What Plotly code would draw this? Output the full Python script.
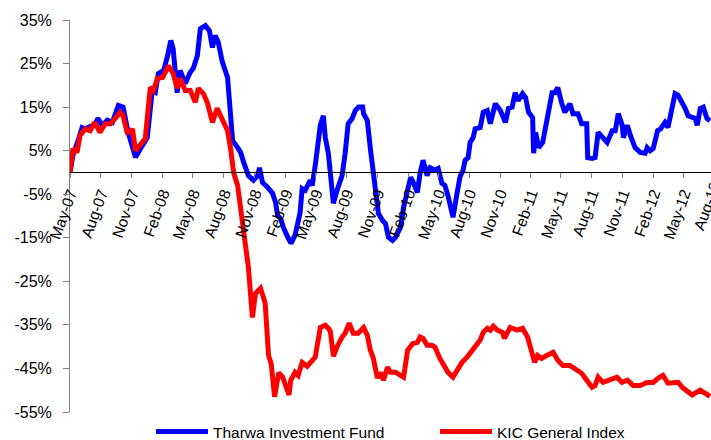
import pandas as pd
import plotly.graph_objects as go

# ---- data ----
tharwa_dates = [
    "2007-05-01", "2007-05-10", "2007-05-25", "2007-06-06", "2007-06-15", "2007-06-30", "2007-07-14", "2007-07-23",
    "2007-08-05", "2007-08-20", "2007-09-04", "2007-09-22", "2007-10-06", "2007-10-21", "2007-11-03", "2007-11-12",
    "2007-11-27", "2007-12-17", "2008-01-01", "2008-01-10", "2008-01-19", "2008-02-04", "2008-02-16", "2008-02-25",
    "2008-03-03", "2008-03-15", "2008-03-24", "2008-04-08", "2008-04-23", "2008-05-02", "2008-05-14", "2008-05-23",
    "2008-06-07", "2008-06-19", "2008-06-28", "2008-07-06", "2008-07-15", "2008-07-27", "2008-08-12", "2008-08-21",
    "2008-08-27", "2008-09-11", "2008-09-20", "2008-09-29", "2008-10-13", "2008-10-28", "2008-11-10", "2008-11-15",
    "2008-11-24", "2008-12-09", "2008-12-24", "2009-01-02", "2009-01-08", "2009-01-17", "2009-01-26", "2009-02-08",
    "2009-02-17", "2009-03-01", "2009-03-16", "2009-03-22", "2009-03-31", "2009-04-15", "2009-04-21", "2009-04-30",
    "2009-05-09", "2009-05-15", "2009-05-24", "2009-05-30", "2009-06-08", "2009-06-20", "2009-06-23", "2009-07-04",
    "2009-07-19", "2009-07-28", "2009-08-06", "2009-08-18", "2009-08-27", "2009-09-06", "2009-09-18", "2009-09-21",
    "2009-10-02", "2009-10-11", "2009-10-20", "2009-10-26", "2009-11-04", "2009-11-16", "2009-11-25", "2009-12-04",
    "2009-12-16", "2009-12-25", "2010-01-09", "2010-01-18", "2010-01-30", "2010-02-08", "2010-02-17", "2010-02-28",
    "2010-03-08", "2010-03-17", "2010-03-29", "2010-04-07", "2010-04-22", "2010-05-01", "2010-05-12", "2010-05-21",
    "2010-05-30", "2010-06-11", "2010-06-14", "2010-06-26", "2010-07-05", "2010-07-14", "2010-07-20", "2010-07-29",
    "2010-08-04", "2010-08-13", "2010-08-19", "2010-09-03", "2010-09-12", "2010-09-24", "2010-10-03", "2010-10-18",
    "2010-11-02", "2010-11-17", "2010-11-26", "2010-12-07", "2010-12-16", "2010-12-25", "2011-01-07", "2011-01-16",
    "2011-01-25", "2011-02-06", "2011-02-09", "2011-02-15", "2011-02-24", "2011-03-08", "2011-03-23", "2011-04-05",
    "2011-04-13", "2011-04-22", "2011-05-04", "2011-05-13", "2011-05-28", "2011-06-06", "2011-06-21", "2011-07-02",
    "2011-07-17", "2011-07-20", "2011-08-02", "2011-08-11", "2011-08-20", "2011-09-04", "2011-09-16", "2011-10-01",
    "2011-10-10", "2011-10-19", "2011-10-31", "2011-11-03", "2011-11-15", "2011-11-24", "2011-12-08", "2011-12-23",
    "2012-01-07", "2012-01-13", "2012-01-22", "2012-01-31", "2012-02-13", "2012-02-22", "2012-03-06", "2012-03-15",
    "2012-03-27", "2012-04-05", "2012-04-14", "2012-04-26", "2012-05-05", "2012-05-14", "2012-05-26", "2012-06-04",
    "2012-06-10", "2012-06-19", "2012-06-28", "2012-07-09", "2012-07-18",
]
tharwa_values = [
    0, 4, 7.3, 10.3, 10, 10.5, 11, 12.4,
    10.8, 12, 11.5, 15.4, 15, 9.2, 5.5, 3.5,
    5.5, 8, 19, 18.5, 22.7, 23.4, 27, 30.3,
    28.4, 18.3, 23.4, 20.4, 23, 23.9, 26.8, 33,
    33.7, 32.5, 28.7, 31.4, 30, 25.5, 21.8, 14.7,
    7.3, 5.7, 4.6, 2.3, -0.7, -1.8, -0.7, 1.1,
    -2.3, -3.4, -4.8, -6.9, -9.9, -10.6, -12.8, -15,
    -16.3, -14.4, -9.2, -3.7, -4.1, -1.8, -3, 1.6,
    7, 10.8, 13, 8, 4.4, -3.4, -7.1, -4.1,
    -0.7, 4.4, 11.2, 12.4, 14.2, 15, 15, 13.5,
    11.9, 5.5, 0.5, -3.4, -9.4, -11, -11.7, -14.9,
    -15.6, -14.9, -12.6, -8, -3.4, -1.1, -2.5, -4.6,
    -0.2, 2.8, -0.7, 1.1, 0.5, 0.9, -2.5, -3,
    -5.3, -8.7, -10.3, -4.8, -1, 0.5, 2.8, 3.4,
    6.9, 8, 10, 10.3, 13.8, 14.2, 11.2, 15.8,
    14.2, 11.5, 14.7, 15, 18.3, 16.5, 18.1, 17.2,
    13.8, 12.6, 4.4, 9.2, 5.7, 6.9, 12.6, 18.3,
    18.3, 19.5, 15.8, 13.8, 15.8, 13.5, 13.5, 11.2,
    11.2, 3.4, 3.2, 3.4, 9.2, 7.8, 6.9, 9.6,
    9.6, 13.5, 10.8, 8, 10.8, 8.5, 5.7, 4.6,
    4.4, 5.7, 5, 5.5, 9.6, 10, 11.5, 10.3,
    14.2, 18.1, 17.7, 16.1, 14.7, 13, 12.6, 12.4,
    10.8, 14.7, 15, 12.4, 11.9,
]

kic_dates = [
    "2007-05-01", "2007-05-10", "2007-05-22", "2007-05-31", "2007-06-15", "2007-06-30", "2007-07-14", "2007-07-29",
    "2007-08-14", "2007-08-29", "2007-09-13", "2007-09-28", "2007-10-06", "2007-10-18", "2007-10-27", "2007-11-03",
    "2007-11-12", "2007-11-27", "2007-12-11", "2007-12-26", "2008-01-04", "2008-01-16", "2008-02-01", "2008-02-18",
    "2008-03-03", "2008-03-15", "2008-03-24", "2008-04-08", "2008-04-23", "2008-05-08", "2008-05-17", "2008-06-01",
    "2008-06-13", "2008-06-28", "2008-07-12", "2008-07-27", "2008-08-12", "2008-08-21", "2008-08-30", "2008-09-11",
    "2008-09-20", "2008-09-29", "2008-10-05", "2008-10-13", "2008-10-25", "2008-11-03", "2008-11-18", "2008-12-02",
    "2008-12-12", "2008-12-20", "2008-12-30", "2009-01-11", "2009-01-23", "2009-02-11", "2009-02-16", "2009-03-01",
    "2009-03-10", "2009-03-22", "2009-04-06", "2009-04-21", "2009-04-30", "2009-05-15", "2009-05-30", "2009-06-08",
    "2009-06-14", "2009-06-23", "2009-07-04", "2009-07-19", "2009-07-28", "2009-08-09", "2009-08-21", "2009-09-05",
    "2009-09-21", "2009-10-02", "2009-10-11", "2009-10-20", "2009-11-01", "2009-11-10", "2009-11-19", "2009-12-01",
    "2009-12-10", "2009-12-25", "2010-01-09", "2010-01-18", "2010-01-30", "2010-02-14", "2010-02-28", "2010-03-08",
    "2010-03-17", "2010-03-29", "2010-04-12", "2010-04-21", "2010-05-06", "2010-05-21", "2010-05-30", "2010-06-14",
    "2010-06-26", "2010-07-11", "2010-07-26", "2010-08-10", "2010-08-25", "2010-09-03", "2010-09-12", "2010-09-24",
    "2010-10-03", "2010-10-12", "2010-10-24", "2010-11-08", "2010-11-14", "2010-11-23", "2010-12-01", "2010-12-22",
    "2011-01-07", "2011-01-22", "2011-01-31", "2011-02-12", "2011-02-21", "2011-03-05", "2011-03-20", "2011-04-08",
    "2011-04-22", "2011-05-07", "2011-05-28", "2011-06-18", "2011-07-02", "2011-07-17", "2011-08-02", "2011-08-11",
    "2011-08-20", "2011-09-04", "2011-09-25", "2011-10-15", "2011-10-30", "2011-11-15", "2011-12-02", "2011-12-23",
    "2012-01-13", "2012-01-31", "2012-02-15", "2012-02-29", "2012-03-15", "2012-03-30", "2012-04-14", "2012-04-29",
    "2012-05-26", "2012-06-19", "2012-07-09", "2012-07-18",
]
kic_values = [
    0, 5.5, 4.6, 8.5, 10, 9.6, 11.5, 9.2,
    11.2, 11.2, 12.4, 13.8, 13, 9.2, 9.2, 10,
    5, 6.7, 7.8, 19.5, 18.8, 21.6, 21.8, 24.5,
    22.7, 19.3, 21.6, 18.8, 18.8, 16.1, 19.3, 18.1,
    16, 11.5, 14.7, 12.2, 9.6, 5.5, 0, -3,
    -8.3, -11.5, -16.3, -21.8, -33.3, -27.8, -26.6, -30,
    -42, -44, -51.5, -46, -47, -51.1, -47.7, -45.9,
    -46.6, -43.6, -44.5, -43.1, -42.4, -35.6, -35.1, -35.8,
    -36.5, -42.2, -40, -37.8, -36.9, -34.6, -36.9, -36.9,
    -35.6, -37.4, -40.8, -42.7, -47.2, -45.9, -47.7, -44.7,
    -45.9, -45.9, -46.6, -47, -40.8, -39.3, -39, -37.8,
    -38.1, -39.7, -39.7, -40.1, -42.7, -45, -45.9, -47,
    -45.4, -43.6, -42.4, -40.8, -39, -38.5, -36.7, -35.8,
    -36.2, -35.3, -36.2, -36.7, -38.1, -36.7, -35.6, -36.2,
    -35.8, -37.8, -40.1, -43.6, -42, -42.7, -42, -41.3,
    -43.1, -44.3, -44.3, -45.4, -46.1, -47.7, -49.3, -48.9,
    -47, -48.2, -47.7, -47, -48.2, -47.7, -48.9, -48.9,
    -48.2, -48.2, -47.2, -46.6, -48.4, -48.2, -48.2, -49.5,
    -51.1, -50, -51.1, -51.4,
]

series_names = ["Tharwa Investment Fund", "KIC General Index"]
series_colors = ["#0000FF", "#FF0000"]
y_tick_values = [35, 25, 15, 5, -5, -15, -25, -35, -45, -55]
y_tick_text = [f"{v}%" for v in y_tick_values]
x_start, x_end = "2007-05-01", "2012-07-21"
last_tick = "2012-08-01"

FONT = "Arial, Liberation Sans, sans-serif"

fig = go.Figure()
fig.add_trace(go.Scatter(x=pd.to_datetime(tharwa_dates), y=tharwa_values, mode="lines",
                         name=series_names[0], legend="legend",
                         line=dict(color=series_colors[0], width=5)))
fig.add_trace(go.Scatter(x=pd.to_datetime(kic_dates), y=kic_values, mode="lines",
                         name=series_names[1], legend="legend2",
                         line=dict(color=series_colors[1], width=5)))

y_min, y_max = min(y_tick_values), max(y_tick_values)
zero_frac = (0 - y_min) / (y_max - y_min)

W, H = 711, 440
ITEMW = 52
leg_common = dict(orientation="h", xanchor="left", yanchor="middle",
                  xref="container", yref="container", y=1 - 432 / H,
                  itemwidth=ITEMW, font=dict(size=15.5, family=FONT, color="black"),
                  bgcolor="rgba(0,0,0,0)", borderwidth=0)

fig.update_layout(
    width=W, height=H,
    margin=dict(l=70, r=0, t=20, b=28),
    plot_bgcolor="white", paper_bgcolor="white",
    font=dict(family=FONT, color="black", size=15.5),
    showlegend=True,
    legend=dict(x=(213 - ITEMW - 10) / W, **leg_common),
    legend2=dict(x=(497 - ITEMW - 10) / W, **leg_common),
    xaxis=dict(
        type="date", range=[x_start, x_end],
        anchor="free", position=zero_frac,
        showline=True, linecolor="black", linewidth=1,
        ticks="outside", ticklen=5, tickcolor="#808080",
        tick0="2007-05-01", dtick="M3", tickformat="%b-%y",
        tickangle=-70, tickfont=dict(size=15.5),
        showgrid=False, zeroline=False, automargin=False,
    ),
    yaxis=dict(
        range=[y_min, y_max], tickmode="array", tickvals=y_tick_values, ticktext=y_tick_text,
        showline=True, linecolor="#808080", linewidth=1,
        ticks="outside", ticklen=6, tickcolor="#808080",
        tickfont=dict(size=16), ticklabelstandoff=8,
        showgrid=False, zeroline=False, automargin=False,
    ),
)

# tick label of the last quarter, which falls just past the visible edge
t0, t1, tl = pd.Timestamp(x_start), pd.Timestamp(x_end), pd.Timestamp(last_tick)
frac = (tl - t0) / (t1 - t0)
fig.add_annotation(xref="paper", yref="paper", x=frac, y=zero_frac, text="Aug-12",
                   showarrow=False, textangle=-70, xanchor="center", yanchor="middle",
                   font=dict(size=15.5, family=FONT), xshift=-8, yshift=-34)

fig.write_html("out.html", config={"displayModeBar": False},
               post_script="document.body.style.margin='0px';")
